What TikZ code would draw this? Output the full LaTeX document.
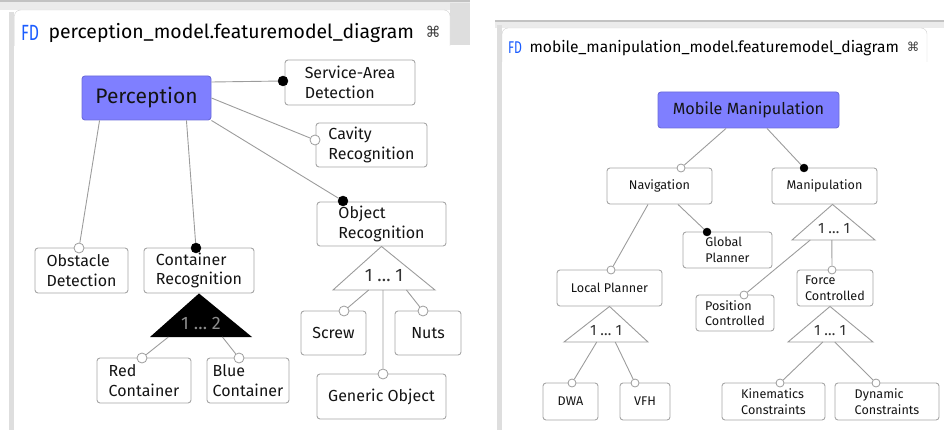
\documentclass[tikz,border=0pt]{standalone}
\usepackage{fontspec}
\setmainfont{Fira Sans}
\newfontfamily\symfont{DejaVu Sans}
\usetikzlibrary{calc}

\definecolor{rootfill}{HTML}{7F7FFF}
\definecolor{rootline}{HTML}{6C6CDA}
\definecolor{boxline}{HTML}{A6A6A6}
\definecolor{linkgrey}{HTML}{9C9C9C}
\definecolor{fdblue}{HTML}{1A5CFF}
\definecolor{barlight}{HTML}{DEDEDE}
\definecolor{bardark}{HTML}{C2C2C2}
\definecolor{tabline}{HTML}{D0D0D0}

\newcommand{\bigfeat}{\fontsize{16}{19.5}\selectfont}
\newcommand{\smallfeat}{\fontsize{12.6}{15.5}\selectfont}

\tikzset{
    feature/.style={draw=boxline, fill=white, rounded corners=3pt, align=left, inner sep=0pt, text=black!92, line width=0.9pt}, % plain feature box
    root/.style={feature, fill=rootfill, draw=rootline}, % the concept at the top
    mandatory/.style={circle, draw=black, fill=black, inner sep=0pt, minimum size=#1}, % filled dot
    optional/.style={circle, draw=linkgrey, fill=white, line width=0.8pt, inner sep=0pt, minimum size=#1}, % hollow dot
    link/.style={draw=linkgrey, line width=0.9pt},
    group/.style={draw=linkgrey, fill=white, line width=0.9pt}, % alternative group triangle
}

\begin{document}
\begin{tikzpicture}[x=1pt, y=-1pt]
\useasboundingbox (0,0) rectangle (944,430);

% editor frames
\fill[barlight!60] (0,0) rectangle (470,10);
\fill[bardark] (0,0) rectangle (470,2.5);
\fill[barlight] (450,3) rectangle (470,45);
\fill[barlight] (9,12) rectangle (14,430);
\draw[tabline, fill=white, rounded corners=6pt] (14.5,46) -- (14.5,10) -- (450,10) -- (450,46);

\fill[barlight!60] (495,20) rectangle (944,28);
\fill[bardark] (495,20) rectangle (944,22.5);
\fill[barlight] (497,25) rectangle (502,430);
\draw[tabline, fill=white, rounded corners=6pt] (502,62) -- (502,28) -- (927,28) -- (927,62);

% tab titles
\node[text=fdblue, xscale=0.72, font=\fontsize{22}{22}\selectfont] (fdl) at (30,33) {FD};
\node[anchor=west, font=\fontsize{19.4}{22}\selectfont] (titlel) at (45,33) {perception\_model.featuremodel\_diagram};
\node[text=black!75, font=\symfont\fontsize{15}{15}\selectfont] (closel) at (433,32) {⌘};
\node[text=fdblue, xscale=0.72, font=\fontsize{17}{17}\selectfont] (fdr) at (515,48) {FD};
\node[anchor=west, font=\fontsize{15.6}{18}\selectfont] (titler) at (526,48) {mobile\_manipulation\_model.featuremodel\_diagram};
\node[text=black!75, font=\symfont\fontsize{12.5}{12.5}\selectfont] (closer) at (913,47) {⌘};

% perception model
\node[root, minimum width=129pt, minimum height=44pt, font=\fontsize{21}{24}\selectfont] (perc) at (146.5,98) {Perception};
\node[feature, minimum width=130pt, minimum height=45pt, font=\bigfeat] (srv) at (350,82.5) {Service-Area\\Detection};
\node[feature, minimum width=111pt, minimum height=44pt, font=\bigfeat] (cav) at (371.5,145) {Cavity\\Recognition};
\node[feature, minimum width=129pt, minimum height=44pt, font=\bigfeat] (obj) at (381.5,224) {Object\\Recognition};
\node[feature, minimum width=93pt, minimum height=45pt, font=\bigfeat] (obst) at (81.5,270.5) {Obstacle\\Detection};
\node[feature, minimum width=110pt, minimum height=45pt, font=\bigfeat] (cont) at (199,270.5) {Container\\Recognition};
\node[feature, minimum width=94pt, minimum height=45pt, font=\bigfeat] (red) at (144,380.5) {Red\\Container};
\node[feature, minimum width=82pt, minimum height=45pt, font=\bigfeat] (blue) at (248,380.5) {Blue\\Container};
\node[feature, minimum width=65pt, minimum height=44pt, font=\bigfeat] (screw) at (333.5,333) {Screw};
\node[feature, minimum width=66pt, minimum height=44pt, font=\bigfeat] (nuts) at (428,333) {Nuts};
\node[feature, minimum width=129pt, minimum height=45pt, font=\bigfeat] (generic) at (381.5,396.5) {Generic Object};

% groups under container and object recognition
\coordinate (cgl) at (150,337);
\coordinate (cgr) at (252,337);
\fill[black] (cont.south) -- (cgr) -- (cgl) -- cycle;
\node[text=black!45, font=\fontsize{18}{18}\selectfont] (cgroup) at (201,323) {1 … 2};
\coordinate (ogl) at (333,290);
\coordinate (ogr) at (435,290);
\draw[group] (obj.south) -- (ogr) -- (ogl) -- cycle;
\node[text=black!80, font=\fontsize{18}{18}\selectfont] (ogroup) at (384,276) {1 … 1};

\node[mandatory=10pt] (srvdot) at (283,81) {};
\node[optional=10pt] (cavdot) at (315,140) {};
\node[mandatory=10pt] (objdot) at (343,201) {};
\node[optional=10pt] (obstdot) at (79,248) {};
\node[mandatory=10pt] (contdot) at (196,248) {};
\node[optional=10pt] (reddot) at (142,358) {};
\node[optional=10pt] (bluedot) at (239,358) {};
\node[optional=10pt] (screwdot) at (344,311) {};
\node[optional=10pt] (nutsdot) at (423,311) {};
\node[optional=10pt] (genericdot) at (383,374) {};

\draw[link] ([yshift=16pt]perc.east) -- (srvdot);
\draw[link] (perc.east) -- (cavdot);
\draw[link] (perc.south east) -- (objdot);
\draw[link] ([xshift=18pt]perc.south west) -- (obstdot);
\draw[link] ([xshift=-25pt]perc.south east) -- (contdot);
\draw[link] ($(cgl)!0.18!(cgr)$) -- (reddot);
\draw[link] ($(cgl)!0.71!(cgr)$) -- (bluedot);
\draw[link] ($(ogl)!0.35!(ogr)$) -- (screwdot);
\draw[link] ($(ogl)!0.72!(ogr)$) -- (nutsdot);
\draw[link] ($(ogl)!0.49!(ogr)$) -- (genericdot);

% mobile manipulation model
\node[root, minimum width=181pt, minimum height=36pt, font=\fontsize{16.2}{19}\selectfont] (mm) at (748.5,110) {Mobile Manipulation};
\node[feature, minimum width=105pt, minimum height=36pt, font=\smallfeat] (nav) at (659.5,186) {Navigation};
\node[feature, minimum width=105pt, minimum height=36pt, font=\smallfeat] (man) at (824.5,186) {Manipulation};
\node[feature, minimum width=89pt, minimum height=36pt, font=\smallfeat] (glob) at (727.5,250) {Global\\Planner};
\node[feature, minimum width=105pt, minimum height=36pt, font=\smallfeat] (loc) at (609.5,288) {Local Planner};
\node[feature, minimum width=55pt, minimum height=37pt, font=\smallfeat] (dwa) at (570.5,401.5) {DWA};
\node[feature, minimum width=50pt, minimum height=37pt, font=\smallfeat] (vfh) at (645,401.5) {VFH};
\node[feature, minimum width=78pt, minimum height=36pt, font=\smallfeat] (pos) at (735,313) {Position\\Controlled};
\node[feature, minimum width=76pt, minimum height=36pt, font=\smallfeat] (force) at (835,288) {Force\\Controlled};
\node[feature, minimum width=103pt, minimum height=37pt, font=\smallfeat] (kin) at (773.5,401.5) {Kinematics\\Constraints};
\node[feature, minimum width=104pt, minimum height=37pt, font=\smallfeat] (dyn) at (887,401.5) {Dynamic\\Constraints};

\coordinate (lgl) at (564,342);
\coordinate (lgr) at (648,342);
\draw[group] (loc.south) -- (lgr) -- (lgl) -- cycle;
\node[text=black!80, font=\fontsize{15}{15}\selectfont] (lgroup) at (606,331) {1 … 1};
\coordinate (mgl) at (792,240);
\coordinate (mgr) at (875,240);
\draw[group] ([xshift=8pt]man.south) -- (mgr) -- (mgl) -- cycle;
\node[text=black!80, font=\fontsize{15}{15}\selectfont] (mgroup) at (834,229) {1 … 1};
\coordinate (fgl) at (788,342);
\coordinate (fgr) at (873,342);
\draw[group] ([xshift=-5pt]force.south) -- (fgr) -- (fgl) -- cycle;
\node[text=black!80, font=\fontsize{15}{15}\selectfont] (fgroup) at (830,331) {1 … 1};

\node[optional=8pt] (navdot) at (681,168) {};
\node[mandatory=8pt] (mandot) at (804,168) {};
\node[mandatory=8pt] (globdot) at (707,232) {};
\node[optional=8pt] (locdot) at (611,270) {};
\node[optional=8pt] (dwadot) at (572,383) {};
\node[optional=8pt] (vfhdot) at (635,383) {};
\node[optional=8pt] (posdot) at (744,295) {};
\node[optional=8pt] (forcedot) at (832,270) {};
\node[optional=8pt] (kindot) at (780,383) {};
\node[optional=8pt] (dyndot) at (876,383) {};

\draw[link] ([xshift=-22.5pt]mm.south) -- (navdot);
\draw[link] ([xshift=18.5pt]mm.south) -- (mandot);
\draw[link] ([xshift=18.5pt]nav.south) -- (globdot);
\draw[link] ([xshift=-11.5pt]nav.south) -- (locdot);
\draw[link] ($(lgl)!0.39!(lgr)$) -- (dwadot);
\draw[link] ($(lgl)!0.61!(lgr)$) -- (vfhdot);
\draw[link] ($(mgl)!0.22!(mgr)$) -- (posdot);
\draw[link] ($(mgl)!0.48!(mgr)$) -- (forcedot);
\draw[link] ($(fgl)!0.41!(fgr)$) -- (kindot);
\draw[link] ($(fgl)!0.55!(fgr)$) -- (dyndot);
\end{tikzpicture}
\end{document}
